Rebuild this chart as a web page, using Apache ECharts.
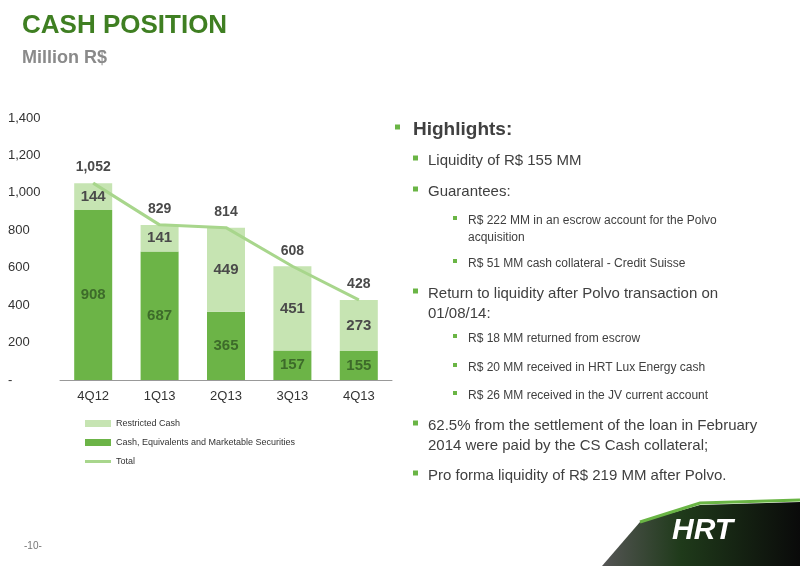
<!DOCTYPE html>
<html>
<head>
<meta charset="utf-8">
<script src="https://cdn.jsdelivr.net/npm/echarts@6/dist/echarts.min.js"></script>
<style>html,body{margin:0;padding:0;background:#fff}#chart{width:800px;height:566px}</style>
</head>
<body>
<div id="chart"></div>
<script>
const quarters = ['4Q12', '1Q13', '2Q13', '3Q13', '4Q13'];
const cashValues = [908, 687, 365, 157, 155];
const restrictedValues = [144, 141, 449, 451, 273];
const totalValues = [1052, 829, 814, 608, 428];
const yTicks = [0, 200, 400, 600, 800, 1000, 1200, 1400];

const chart = echarts.init(document.getElementById('chart'));
const font = 'Arial, "Liberation Sans", sans-serif';
const bullets = [
  [0, 'Highlights:', 128],
  [1, 'Liquidity of R$ 155 MM', 159],
  [1, 'Guarantees:', 190],
  [2, 'R$ 222 MM in an escrow account for the Polvo\nacquisition', 219],
  [2, 'R$ 51 MM cash collateral - Credit Suisse', 262],
  [1, 'Return to liquidity after Polvo transaction on\n01/08/14:', 292],
  [2, 'R$ 18 MM returned from escrow', 337],
  [2, 'R$ 20 MM received in HRT Lux Energy cash', 366],
  [2, 'R$ 26 MM received in the JV current account', 394],
  [1, '62.5% from the settlement of the loan in February\n2014 were paid by the CS Cash collateral;', 424],
  [1, 'Pro forma liquidity of R$ 219 MM after Polvo.', 474]
];
const graphics = [
  { type: 'text', left: 22, top: 13, style: { text: 'CASH POSITION', font: 'bold 26px ' + font, fill: '#3f7f22' } },
  { type: 'text', left: 22, top: 49, style: { text: 'Million R$', font: 'bold 18px ' + font, fill: '#8a8a8a' } },
  { type: 'text', left: 24, top: 541, style: { text: '-10-', font: '10px ' + font, fill: '#777' } },
  { type: 'polygon', shape: { points: [[602, 566], [640, 522], [700, 505], [800, 502], [800, 566]] },
    style: { fill: new echarts.graphic.LinearGradient(0, 0, 1, 0, [{ offset: 0, color: '#555' }, { offset: 0.4, color: '#1f3a1a' }, { offset: 1, color: '#0a0a0a' }]) } },
  { type: 'polyline', shape: { points: [[640, 522], [700, 503], [800, 500]] }, style: { stroke: '#6ab545', lineWidth: 3 } },
  { type: 'text', left: 672, top: 516, style: { text: 'HRT', font: 'bold italic 30px ' + font, fill: '#fff' } }
];
bullets.forEach(([lvl, txt, y]) => {
  const size = lvl === 0 ? 19 : (lvl === 1 ? 15 : 12);
  const tx = lvl === 0 ? 413 : (lvl === 1 ? 428 : 468);
  const bx = lvl === 0 ? 395 : (lvl === 1 ? 413 : 453);
  const sq = lvl === 2 ? 4 : 5;
  const top = y - size / 2 - 1;
  graphics.push({ type: 'rect', shape: { x: bx, y: y - sq / 2 - 1, width: sq, height: sq }, style: { fill: '#6ab545' } });
  graphics.push({ type: 'text', left: tx, top: top, style: { text: txt, font: (lvl === 0 ? 'bold ' : '') + size + 'px ' + font, fill: '#404040', lineHeight: size + 5 } });
});

chart.setOption({
  animation: false,
  grid: { left: 60, right: 408, top: 118, bottom: 186 },
  legend: {
    orient: 'vertical', left: 80, top: 414, itemGap: 10, itemWidth: 26, itemHeight: 7,
    textStyle: { fontSize: 9, color: '#333', fontFamily: font },
    data: [
      { name: 'Restricted Cash', icon: 'rect' },
      { name: 'Cash, Equivalents and Marketable Securities', icon: 'rect' },
      { name: 'Total', icon: 'path://M0,0L26,0L26,3L0,3Z' }
    ]
  },
  xAxis: {
    type: 'category', data: quarters,
    axisLine: { lineStyle: { color: '#999' } }, axisTick: { show: false },
    axisLabel: { fontSize: 13, color: '#333', fontFamily: font, margin: 10 }
  },
  yAxis: {
    type: 'value', min: 0, max: 1400, interval: 200, splitLine: { show: false },
    axisLabel: { fontSize: 13, color: '#333', fontFamily: font, margin: 52, align: 'left',
      formatter: v => yTicks.includes(v) ? (v === 0 ? '-' : v.toLocaleString('en-US')) : '' }
  },
  series: [
    { name: 'Cash, Equivalents and Marketable Securities', type: 'bar', stack: 's', data: cashValues, barWidth: 38,
      itemStyle: { color: '#6cb447' },
      label: { show: true, position: 'inside', fontSize: 15, fontWeight: 'bold', color: '#3d6b2a', fontFamily: font } },
    { name: 'Restricted Cash', type: 'bar', stack: 's', data: restrictedValues,
      itemStyle: { color: '#c6e4b2' },
      label: { show: true, position: 'inside', fontSize: 15, fontWeight: 'bold', color: '#4a4a4a', fontFamily: font } },
    { name: 'Total', type: 'line', data: totalValues, symbol: 'circle', symbolSize: 1, showSymbol: true, z: 5,
      lineStyle: { color: '#a8d68c', width: 3 }, itemStyle: { color: '#a8d68c' },
      labelLayout: { hideOverlap: false },
      label: { show: true, position: 'top', distance: 8, fontSize: 14, fontWeight: 'bold', color: '#4a4a4a', fontFamily: font,
        formatter: p => p.value.toLocaleString('en-US') } }
  ],
  graphic: graphics
});
</script>
</body>
</html>
